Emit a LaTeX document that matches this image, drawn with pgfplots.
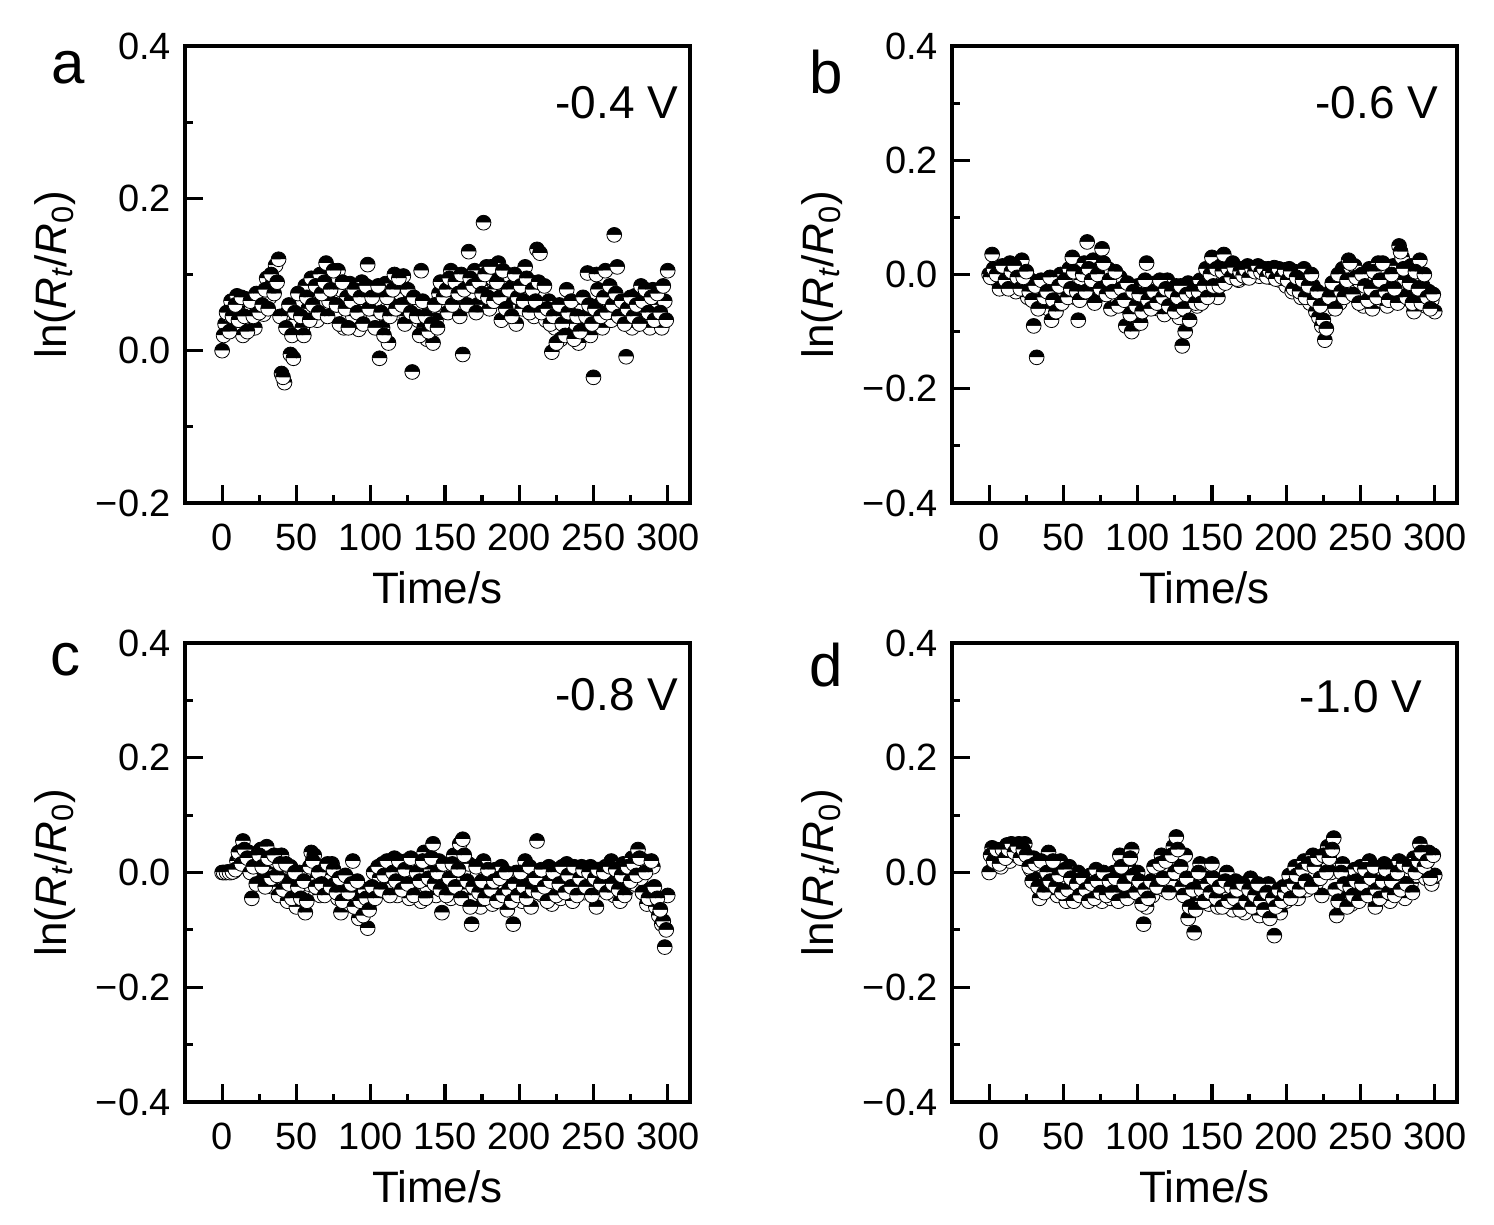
\documentclass[border=0pt]{standalone}
\usepackage{fontspec}
\setmainfont{Liberation Sans}
\usepackage{pgfplots}
\usepackage{pgfplotstable}
\pgfplotsset{compat=1.18}

\pgfplotstableread[row sep=\\]{t v\\
0 0.000\\ 2 0.035\\ 4 0.048\\ 6 0.065\\ 8 0.030\\ 10 0.072\\ 12 0.055\\ 14 0.020\\ 16 0.068\\ 18 0.040\\
20 0.058\\ 22 0.030\\ 24 0.062\\ 26 0.075\\ 28 0.048\\ 30 0.095\\ 32 0.070\\ 34 0.088\\ 36 0.112\\ 38 0.120\\
40 -0.030\\ 42 -0.042\\ 44 0.050\\ 46 -0.005\\ 48 -0.010\\ 50 0.040\\ 52 0.065\\ 54 0.030\\ 56 0.085\\ 58 0.055\\
60 0.095\\ 62 0.072\\ 64 0.040\\ 66 0.100\\ 68 0.085\\ 70 0.115\\ 72 0.065\\ 74 0.095\\ 76 0.050\\ 78 0.105\\
80 0.080\\ 82 0.030\\ 84 0.070\\ 86 0.088\\ 88 0.045\\ 90 0.075\\ 92 0.028\\ 94 0.090\\ 96 0.060\\ 98 0.113\\
100 0.080\\ 102 0.045\\ 104 0.068\\ 106 -0.010\\ 108 0.030\\ 110 0.088\\ 112 0.010\\ 114 0.060\\ 116 0.100\\ 118 0.050\\
120 0.075\\ 122 0.098\\ 124 0.045\\ 126 0.065\\ 128 -0.028\\ 130 0.060\\ 132 0.040\\ 134 0.105\\ 136 0.030\\ 138 0.015\\
140 0.055\\ 142 0.010\\ 144 0.040\\ 146 0.075\\ 148 0.060\\ 150 0.090\\ 152 0.050\\ 154 0.105\\ 156 0.070\\ 158 0.082\\
160 0.045\\ 162 -0.005\\ 164 0.095\\ 166 0.130\\ 168 0.075\\ 170 0.105\\ 172 0.060\\ 174 0.085\\ 176 0.168\\ 178 0.110\\
180 0.055\\ 182 0.095\\ 184 0.080\\ 186 0.115\\ 188 0.040\\ 190 0.070\\ 192 0.100\\ 194 0.060\\ 196 0.085\\ 198 0.035\\
200 0.095\\ 202 0.055\\ 204 0.110\\ 206 0.075\\ 208 0.090\\ 210 0.045\\ 212 0.133\\ 214 0.128\\ 216 0.060\\ 218 0.040\\
220 0.065\\ 222 -0.002\\ 224 0.030\\ 226 0.050\\ 228 0.015\\ 230 0.045\\ 232 0.080\\ 234 0.020\\ 236 0.055\\ 238 0.035\\
240 0.010\\ 242 0.060\\ 244 0.030\\ 246 0.102\\ 248 0.020\\ 250 -0.035\\ 252 0.100\\ 254 0.060\\ 256 0.030\\ 258 0.105\\
260 0.065\\ 262 0.040\\ 264 0.152\\ 266 0.110\\ 268 0.055\\ 270 0.045\\ 272 -0.008\\ 274 0.060\\ 276 0.030\\ 278 0.072\\
280 0.050\\ 282 0.085\\ 284 0.040\\ 286 0.065\\ 288 0.030\\ 290 0.080\\ 292 0.045\\ 294 0.060\\ 296 0.030\\ 298 0.065\\
300 0.105\\
}\dataA
\pgfplotstableread[row sep=\\]{t v\\
1 0.020\\ 3 0.050\\ 5 0.025\\ 7 0.045\\ 9 0.060\\ 11 0.040\\ 13 0.070\\ 15 0.045\\ 17 0.025\\ 19 0.065\\
21 0.045\\ 23 0.075\\ 25 0.050\\ 27 0.060\\ 29 0.080\\ 31 0.055\\ 33 0.100\\ 35 0.075\\ 37 0.090\\ 39 0.045\\
41 -0.035\\ 43 0.030\\ 45 0.060\\ 47 0.020\\ 49 0.050\\ 51 0.075\\ 53 0.045\\ 55 0.020\\ 57 0.070\\ 59 0.040\\
61 0.060\\ 63 0.085\\ 65 0.050\\ 67 0.075\\ 69 0.090\\ 71 0.045\\ 73 0.080\\ 75 0.105\\ 77 0.060\\ 79 0.035\\
81 0.090\\ 83 0.055\\ 85 0.030\\ 87 0.065\\ 89 0.080\\ 91 0.050\\ 93 0.070\\ 95 0.035\\ 97 0.085\\ 99 0.055\\
101 0.070\\ 103 0.030\\ 105 0.085\\ 107 0.050\\ 109 0.020\\ 111 0.070\\ 113 0.045\\ 115 0.080\\ 117 0.055\\ 119 0.095\\
121 0.060\\ 123 0.035\\ 125 0.080\\ 127 0.050\\ 129 0.070\\ 131 0.045\\ 133 0.020\\ 135 0.065\\ 137 0.045\\ 139 0.025\\
141 0.035\\ 143 0.060\\ 145 0.030\\ 147 0.090\\ 149 0.070\\ 151 0.080\\ 153 0.095\\ 155 0.060\\ 157 0.090\\ 159 0.075\\
161 0.100\\ 163 0.080\\ 165 0.060\\ 167 0.095\\ 169 0.085\\ 171 0.050\\ 173 0.090\\ 175 0.075\\ 177 0.100\\ 179 0.070\\
181 0.110\\ 183 0.065\\ 185 0.090\\ 187 0.070\\ 189 0.105\\ 191 0.055\\ 193 0.080\\ 195 0.045\\ 197 0.100\\ 199 0.070\\
201 0.085\\ 203 0.065\\ 205 0.095\\ 207 0.050\\ 209 0.080\\ 211 0.065\\ 213 0.090\\ 215 0.050\\ 217 0.085\\ 219 0.055\\
221 0.035\\ 223 0.045\\ 225 0.010\\ 227 0.060\\ 229 0.035\\ 231 0.020\\ 233 0.050\\ 235 0.065\\ 237 0.015\\ 239 0.045\\
241 0.025\\ 243 0.070\\ 245 0.045\\ 247 0.060\\ 249 0.035\\ 251 0.055\\ 253 0.080\\ 255 0.045\\ 257 0.070\\ 259 0.050\\
261 0.085\\ 263 0.060\\ 265 0.075\\ 267 0.045\\ 269 0.065\\ 271 0.035\\ 273 0.055\\ 275 0.070\\ 277 0.045\\ 279 0.060\\
281 0.035\\ 283 0.065\\ 285 0.080\\ 287 0.050\\ 289 0.070\\ 291 0.040\\ 293 0.075\\ 295 0.050\\ 297 0.085\\ 299 0.040\\
}\dataAo

\pgfplotstableread[row sep=\\]{t v\\
0 0.000\\ 2 0.035\\ 4 -0.005\\ 6 -0.012\\ 8 0.010\\ 10 -0.020\\ 12 0.005\\ 14 0.020\\ 16 -0.010\\ 18 -0.030\\
20 0.010\\ 22 0.025\\ 24 -0.020\\ 26 -0.040\\ 28 -0.010\\ 30 -0.090\\ 32 -0.145\\ 34 -0.030\\ 36 -0.050\\ 38 -0.015\\
40 -0.060\\ 42 -0.080\\ 44 -0.025\\ 46 -0.045\\ 48 0.000\\ 50 -0.035\\ 52 -0.020\\ 54 0.010\\ 56 0.030\\ 58 -0.040\\
60 -0.080\\ 62 -0.010\\ 64 0.020\\ 66 0.057\\ 68 -0.025\\ 70 0.025\\ 72 -0.040\\ 74 0.010\\ 76 0.045\\ 78 -0.015\\
80 0.010\\ 82 -0.060\\ 84 -0.020\\ 86 -0.040\\ 88 -0.005\\ 90 -0.030\\ 92 -0.090\\ 94 -0.060\\ 96 -0.100\\ 98 -0.040\\
100 -0.020\\ 102 -0.085\\ 104 -0.050\\ 106 0.020\\ 108 -0.030\\ 110 -0.045\\ 112 -0.015\\ 114 -0.060\\ 116 -0.025\\ 118 -0.070\\
120 -0.010\\ 122 -0.040\\ 124 -0.055\\ 126 -0.020\\ 128 -0.075\\ 130 -0.125\\ 132 -0.100\\ 134 -0.015\\ 136 -0.045\\ 138 -0.020\\
140 -0.055\\ 142 -0.010\\ 144 -0.035\\ 146 0.010\\ 148 -0.025\\ 150 0.030\\ 152 -0.005\\ 154 -0.040\\ 156 0.015\\ 158 0.035\\
160 -0.010\\ 162 0.005\\ 164 0.020\\ 166 0.000\\ 168 -0.010\\ 170 0.010\\ 172 -0.005\\ 174 0.015\\ 176 0.010\\ 178 0.002\\
180 0.012\\ 182 -0.003\\ 184 0.008\\ 186 0.000\\ 188 0.010\\ 190 -0.005\\ 192 0.012\\ 194 0.005\\ 196 -0.010\\ 198 0.000\\
200 -0.020\\ 202 0.010\\ 204 -0.030\\ 206 0.005\\ 208 -0.015\\ 210 -0.040\\ 212 0.010\\ 214 -0.030\\ 216 -0.050\\ 218 -0.020\\
220 -0.065\\ 222 -0.075\\ 224 -0.090\\ 226 -0.115\\ 228 -0.060\\ 230 -0.030\\ 232 -0.045\\ 234 -0.010\\ 236 -0.050\\ 238 0.010\\
240 -0.030\\ 242 0.025\\ 244 -0.020\\ 246 0.015\\ 248 -0.040\\ 250 -0.015\\ 252 -0.055\\ 254 -0.030\\ 256 0.010\\ 258 -0.060\\
260 -0.020\\ 262 0.020\\ 264 -0.045\\ 266 -0.010\\ 268 -0.055\\ 270 -0.020\\ 272 0.015\\ 274 -0.040\\ 276 0.050\\ 278 0.030\\
280 -0.010\\ 282 -0.035\\ 284 0.015\\ 286 -0.065\\ 288 -0.040\\ 290 0.025\\ 292 -0.020\\ 294 -0.055\\ 296 -0.030\\ 298 -0.045\\
300 -0.065\\
}\dataB
\pgfplotstableread[row sep=\\]{t v\\
1 -0.005\\ 3 0.010\\ 5 0.000\\ 7 -0.025\\ 9 0.015\\ 11 -0.010\\ 13 -0.025\\ 15 0.005\\ 17 0.015\\ 19 -0.005\\
21 -0.025\\ 23 -0.005\\ 25 0.005\\ 27 -0.030\\ 29 -0.045\\ 31 -0.020\\ 33 -0.060\\ 35 -0.010\\ 37 -0.040\\ 39 -0.030\\
41 -0.005\\ 43 -0.045\\ 45 -0.065\\ 47 -0.020\\ 49 -0.050\\ 51 -0.010\\ 53 -0.040\\ 55 -0.025\\ 57 0.005\\ 59 -0.030\\
61 -0.045\\ 63 0.000\\ 65 -0.030\\ 67 0.010\\ 69 -0.010\\ 71 -0.050\\ 73 0.000\\ 75 -0.025\\ 77 0.020\\ 79 -0.035\\
81 -0.010\\ 83 -0.030\\ 85 0.005\\ 87 -0.055\\ 89 -0.025\\ 91 -0.045\\ 93 -0.015\\ 95 -0.070\\ 97 -0.030\\ 99 -0.055\\
101 -0.035\\ 103 -0.065\\ 105 -0.010\\ 107 -0.045\\ 109 -0.060\\ 111 -0.030\\ 113 -0.050\\ 115 -0.010\\ 117 -0.040\\ 119 -0.025\\
121 -0.055\\ 123 -0.030\\ 125 -0.065\\ 127 -0.040\\ 129 -0.020\\ 131 -0.060\\ 133 -0.035\\ 135 -0.080\\ 137 -0.030\\ 139 -0.050\\
141 -0.030\\ 143 -0.050\\ 145 -0.020\\ 147 -0.040\\ 149 0.000\\ 151 -0.020\\ 153 0.010\\ 155 -0.020\\ 157 0.005\\ 159 -0.015\\
161 0.010\\ 163 -0.005\\ 165 0.012\\ 167 -0.008\\ 169 0.005\\ 171 -0.002\\ 173 0.008\\ 175 -0.006\\ 177 0.010\\ 179 0.005\\
181 0.015\\ 183 0.004\\ 185 0.010\\ 187 -0.004\\ 189 0.006\\ 191 0.002\\ 193 -0.008\\ 195 0.010\\ 197 -0.004\\ 199 0.008\\
201 -0.010\\ 203 0.005\\ 205 -0.025\\ 207 -0.005\\ 209 -0.030\\ 211 -0.010\\ 213 -0.040\\ 215 -0.020\\ 217 0.000\\ 219 -0.045\\
221 -0.030\\ 223 -0.055\\ 225 -0.080\\ 227 -0.095\\ 229 -0.040\\ 231 -0.015\\ 233 -0.060\\ 235 0.000\\ 237 -0.030\\ 239 -0.040\\
241 -0.010\\ 243 0.020\\ 245 -0.035\\ 247 -0.005\\ 249 -0.050\\ 251 0.000\\ 253 -0.020\\ 255 -0.045\\ 257 -0.025\\ 259 0.005\\
261 -0.040\\ 263 -0.010\\ 265 0.020\\ 267 -0.030\\ 269 -0.045\\ 271 0.000\\ 273 -0.025\\ 275 -0.050\\ 277 0.040\\ 279 0.010\\
281 -0.040\\ 283 -0.015\\ 285 -0.050\\ 287 0.005\\ 289 -0.025\\ 291 -0.050\\ 293 0.000\\ 295 -0.040\\ 297 -0.060\\ 299 -0.035\\
}\dataBo

\pgfplotstableread[row sep=\\]{t v\\
0 0.000\\ 2 0.000\\ 4 0.001\\ 6 0.000\\ 8 0.002\\ 10 0.020\\ 12 0.030\\ 14 0.055\\ 16 0.010\\ 18 0.035\\
20 -0.045\\ 22 0.025\\ 24 -0.010\\ 26 0.040\\ 28 -0.020\\ 30 0.045\\ 32 0.005\\ 34 -0.025\\ 36 0.020\\ 38 -0.040\\
40 0.030\\ 42 -0.015\\ 44 -0.050\\ 46 0.010\\ 48 -0.035\\ 50 -0.060\\ 52 0.000\\ 54 -0.030\\ 56 -0.070\\ 58 -0.020\\
60 0.035\\ 62 0.030\\ 64 -0.010\\ 66 -0.040\\ 68 0.010\\ 70 -0.030\\ 72 -0.005\\ 74 0.015\\ 76 -0.020\\ 78 -0.045\\
80 -0.070\\ 82 -0.030\\ 84 -0.010\\ 86 -0.055\\ 88 0.020\\ 90 -0.040\\ 92 -0.080\\ 94 -0.060\\ 96 -0.030\\ 98 -0.097\\
100 -0.050\\ 102 0.000\\ 104 -0.035\\ 106 -0.010\\ 108 0.015\\ 110 -0.030\\ 112 0.005\\ 114 -0.020\\ 116 0.025\\ 118 -0.040\\
120 0.010\\ 122 -0.015\\ 124 0.020\\ 126 -0.045\\ 128 0.000\\ 130 -0.030\\ 132 0.015\\ 134 -0.050\\ 136 0.035\\ 138 -0.025\\
140 0.005\\ 142 0.050\\ 144 -0.040\\ 146 0.020\\ 148 -0.070\\ 150 -0.020\\ 152 0.010\\ 154 -0.045\\ 156 0.030\\ 158 -0.010\\
160 0.050\\ 162 0.058\\ 164 -0.030\\ 166 0.015\\ 168 -0.090\\ 170 -0.040\\ 172 0.000\\ 174 -0.060\\ 176 0.020\\ 178 -0.030\\
180 -0.010\\ 182 -0.055\\ 184 0.005\\ 186 -0.035\\ 188 0.010\\ 190 -0.020\\ 192 -0.065\\ 194 -0.040\\ 196 -0.090\\ 198 0.000\\
200 -0.030\\ 202 -0.050\\ 204 0.020\\ 206 -0.015\\ 208 -0.060\\ 210 -0.030\\ 212 0.055\\ 214 -0.005\\ 216 -0.040\\ 218 -0.020\\
220 0.010\\ 222 -0.055\\ 224 -0.025\\ 226 0.005\\ 228 -0.045\\ 230 -0.010\\ 232 0.015\\ 234 -0.030\\ 236 -0.050\\ 238 0.005\\
240 -0.020\\ 242 0.010\\ 244 -0.035\\ 246 -0.005\\ 248 0.010\\ 250 -0.025\\ 252 -0.060\\ 254 0.000\\ 256 -0.030\\ 258 0.010\\
260 -0.015\\ 262 0.020\\ 264 -0.040\\ 266 -0.010\\ 268 -0.050\\ 270 0.015\\ 272 -0.030\\ 274 0.000\\ 276 0.025\\ 278 -0.020\\
280 0.040\\ 282 -0.010\\ 284 0.020\\ 286 -0.055\\ 288 -0.030\\ 290 0.010\\ 292 -0.060\\ 294 -0.075\\ 296 -0.090\\ 297 -0.085\\
298 -0.130\\ 299 -0.100\\ 300 -0.040\\
}\dataC
\pgfplotstableread[row sep=\\]{t v\\
1 0.000\\ 3 0.000\\ 5 0.000\\ 7 0.001\\ 9 0.005\\ 11 0.035\\ 13 0.015\\ 15 0.040\\ 17 0.025\\ 19 0.000\\
21 0.010\\ 23 -0.020\\ 25 0.030\\ 27 0.010\\ 29 -0.025\\ 31 0.025\\ 33 -0.010\\ 35 0.030\\ 37 -0.005\\ 39 0.015\\
41 -0.030\\ 43 0.015\\ 45 -0.020\\ 47 -0.045\\ 49 0.000\\ 51 -0.025\\ 53 -0.045\\ 55 -0.015\\ 57 -0.050\\ 59 0.010\\
61 0.020\\ 63 -0.025\\ 65 0.000\\ 67 -0.020\\ 69 -0.040\\ 71 0.015\\ 73 -0.025\\ 75 0.005\\ 77 -0.035\\ 79 -0.010\\
81 -0.050\\ 83 -0.005\\ 85 -0.035\\ 87 -0.020\\ 89 -0.060\\ 91 -0.015\\ 93 -0.050\\ 95 -0.075\\ 97 -0.045\\ 99 -0.065\\
101 -0.025\\ 103 -0.045\\ 105 0.010\\ 107 -0.030\\ 109 -0.005\\ 111 0.020\\ 113 -0.040\\ 115 0.000\\ 117 -0.015\\ 119 0.020\\
121 -0.030\\ 123 0.005\\ 125 -0.020\\ 127 0.025\\ 129 -0.040\\ 131 0.000\\ 133 -0.015\\ 135 0.020\\ 137 -0.045\\ 139 -0.010\\
141 0.025\\ 143 -0.020\\ 145 0.000\\ 147 -0.030\\ 149 0.015\\ 151 -0.040\\ 153 -0.010\\ 155 0.015\\ 157 -0.025\\ 159 0.005\\
161 -0.045\\ 163 0.030\\ 165 -0.015\\ 167 -0.060\\ 169 -0.025\\ 171 0.010\\ 173 -0.035\\ 175 -0.015\\ 177 -0.045\\ 179 0.005\\
181 -0.030\\ 183 -0.015\\ 185 -0.050\\ 187 -0.010\\ 189 -0.040\\ 191 0.000\\ 193 -0.030\\ 195 -0.050\\ 197 -0.020\\ 199 -0.040\\
201 0.000\\ 203 -0.025\\ 205 -0.045\\ 207 0.010\\ 209 -0.030\\ 211 -0.010\\ 213 -0.035\\ 215 0.005\\ 217 -0.025\\ 219 -0.050\\
221 -0.015\\ 223 0.000\\ 225 -0.040\\ 227 -0.020\\ 229 0.010\\ 231 -0.035\\ 233 -0.005\\ 235 -0.025\\ 237 0.010\\ 239 -0.040\\
241 -0.010\\ 243 0.005\\ 245 -0.025\\ 247 0.000\\ 249 -0.040\\ 251 -0.010\\ 253 0.005\\ 255 -0.020\\ 257 0.000\\ 259 -0.035\\
261 0.010\\ 263 -0.020\\ 265 0.005\\ 267 -0.030\\ 269 -0.005\\ 271 -0.040\\ 273 0.010\\ 275 -0.015\\ 277 0.015\\ 279 -0.005\\
281 0.025\\ 283 -0.035\\ 285 0.000\\ 287 -0.045\\ 289 0.020\\ 291 -0.025\\ 293 -0.045\\ 295 -0.065\\
}\dataCo

\pgfplotstableread[row sep=\\]{t v\\
0 0.000\\ 2 0.043\\ 4 0.025\\ 6 0.035\\ 8 0.010\\ 10 0.030\\ 12 0.048\\ 14 0.020\\ 16 0.045\\ 18 0.030\\
20 0.050\\ 22 0.035\\ 24 0.050\\ 26 0.020\\ 28 0.005\\ 30 0.025\\ 32 -0.010\\ 34 -0.045\\ 36 0.010\\ 38 -0.020\\
40 0.035\\ 42 -0.030\\ 44 0.000\\ 46 -0.040\\ 48 0.020\\ 50 -0.015\\ 52 -0.050\\ 54 0.010\\ 56 -0.025\\ 58 -0.040\\
60 0.000\\ 62 -0.030\\ 64 -0.015\\ 66 -0.045\\ 68 -0.005\\ 70 -0.035\\ 72 0.005\\ 74 -0.020\\ 76 -0.050\\ 78 -0.010\\
80 -0.030\\ 82 -0.045\\ 84 0.000\\ 86 -0.025\\ 88 0.030\\ 90 -0.040\\ 92 -0.015\\ 94 0.010\\ 96 0.040\\ 98 -0.020\\
100 0.000\\ 102 -0.035\\ 104 -0.090\\ 106 -0.060\\ 108 -0.020\\ 110 -0.040\\ 112 -0.010\\ 114 0.000\\ 116 0.030\\ 118 -0.030\\
120 0.010\\ 122 -0.015\\ 124 0.045\\ 126 0.062\\ 128 0.020\\ 130 -0.025\\ 132 0.030\\ 134 -0.080\\ 136 -0.050\\ 138 -0.105\\
140 -0.020\\ 142 0.015\\ 144 -0.040\\ 146 -0.010\\ 148 -0.055\\ 150 0.015\\ 152 -0.030\\ 154 -0.060\\ 156 -0.020\\ 158 -0.045\\
160 0.000\\ 162 -0.035\\ 164 -0.065\\ 166 -0.015\\ 168 -0.050\\ 170 -0.030\\ 172 -0.070\\ 174 -0.040\\ 176 -0.010\\ 178 -0.055\\
180 -0.025\\ 182 -0.075\\ 184 -0.035\\ 186 -0.050\\ 188 -0.020\\ 190 -0.060\\ 192 -0.110\\ 194 -0.040\\ 196 -0.070\\ 198 -0.025\\
200 -0.050\\ 202 -0.005\\ 204 -0.035\\ 206 0.010\\ 208 -0.045\\ 210 -0.015\\ 212 0.020\\ 214 -0.030\\ 216 0.000\\ 218 0.030\\
220 -0.020\\ 222 0.010\\ 224 -0.040\\ 226 0.020\\ 228 0.045\\ 230 0.000\\ 232 0.060\\ 234 -0.075\\ 236 -0.030\\ 238 0.015\\
240 -0.045\\ 242 -0.010\\ 244 -0.055\\ 246 0.005\\ 248 -0.030\\ 250 0.010\\ 252 -0.040\\ 254 -0.015\\ 256 0.020\\ 258 -0.025\\
260 -0.060\\ 262 0.000\\ 264 -0.035\\ 266 0.015\\ 268 -0.020\\ 270 -0.050\\ 272 0.010\\ 274 -0.030\\ 276 0.020\\ 278 -0.010\\
280 -0.045\\ 282 0.005\\ 284 -0.020\\ 286 0.025\\ 288 -0.005\\ 290 0.050\\ 292 0.030\\ 294 -0.010\\ 296 0.035\\ 298 -0.020\\
300 -0.005\\
}\dataD
\pgfplotstableread[row sep=\\]{t v\\
1 0.030\\ 3 0.020\\ 5 0.040\\ 7 0.015\\ 9 0.040\\ 11 0.025\\ 13 0.040\\ 15 0.050\\ 17 0.035\\ 19 0.045\\
21 0.025\\ 23 0.040\\ 25 0.030\\ 27 0.010\\ 29 -0.015\\ 31 0.015\\ 33 -0.025\\ 35 0.020\\ 37 -0.035\\ 39 0.000\\
41 -0.015\\ 43 0.020\\ 45 -0.025\\ 47 -0.005\\ 49 -0.035\\ 51 0.005\\ 53 -0.030\\ 55 -0.010\\ 57 -0.050\\ 59 -0.020\\
61 -0.040\\ 63 -0.010\\ 65 -0.030\\ 67 -0.050\\ 69 -0.020\\ 71 -0.045\\ 73 -0.015\\ 75 -0.035\\ 77 0.000\\ 79 -0.040\\
81 -0.015\\ 83 -0.035\\ 85 -0.010\\ 87 -0.050\\ 89 0.010\\ 91 -0.020\\ 93 -0.045\\ 95 0.025\\ 97 -0.005\\ 99 -0.035\\
101 -0.015\\ 103 -0.055\\ 105 -0.030\\ 107 -0.045\\ 109 -0.015\\ 111 0.010\\ 113 -0.025\\ 115 0.015\\ 117 -0.010\\ 119 0.020\\
121 -0.035\\ 123 0.030\\ 125 0.000\\ 127 0.040\\ 129 0.010\\ 131 -0.040\\ 133 -0.010\\ 135 -0.060\\ 137 -0.030\\ 139 -0.065\\
141 0.000\\ 143 -0.030\\ 145 -0.050\\ 147 -0.020\\ 149 -0.035\\ 151 -0.010\\ 153 -0.045\\ 155 -0.025\\ 157 -0.060\\ 159 -0.015\\
161 -0.050\\ 163 -0.025\\ 165 -0.045\\ 167 -0.030\\ 169 -0.065\\ 171 -0.020\\ 173 -0.050\\ 175 -0.030\\ 177 -0.060\\ 179 -0.040\\
181 -0.020\\ 183 -0.050\\ 185 -0.065\\ 187 -0.035\\ 189 -0.080\\ 191 -0.045\\ 193 -0.060\\ 195 -0.030\\ 197 -0.050\\ 199 -0.035\\
201 -0.025\\ 203 -0.045\\ 205 -0.020\\ 207 -0.005\\ 209 -0.030\\ 211 0.005\\ 213 -0.015\\ 215 0.015\\ 217 -0.025\\ 219 0.010\\
221 0.025\\ 223 -0.010\\ 225 0.030\\ 227 0.000\\ 229 0.025\\ 231 0.040\\ 233 -0.030\\ 235 -0.050\\ 237 0.000\\ 239 -0.020\\
241 -0.060\\ 243 -0.025\\ 245 -0.040\\ 247 -0.015\\ 249 -0.050\\ 251 -0.020\\ 253 0.005\\ 255 -0.040\\ 257 -0.010\\ 259 0.010\\
261 -0.030\\ 263 -0.045\\ 265 -0.015\\ 267 0.005\\ 269 -0.035\\ 271 -0.015\\ 273 -0.040\\ 275 0.000\\ 277 -0.030\\ 279 0.015\\
281 -0.020\\ 283 0.010\\ 285 -0.035\\ 287 0.000\\ 289 0.020\\ 291 0.035\\ 293 0.010\\ 295 0.020\\ 297 -0.010\\ 299 0.030\\
}\dataDo

\pgfplotsset{
  panel/.style={
    scale only axis, width=252.5pt,
    xmin=-25, xmax=315,
    xtick={0,50,100,150,200,250,300},
    xticklabels={0,50,100,150,200,250,300},
    minor x tick num=1, minor y tick num=1,
    tick pos=left, tick align=inside,
    major tick length=9pt, minor tick length=4pt,
    every tick/.append style={line width=1.6pt, black},
    axis line style={line width=1.6pt},
    ticklabel style={font=\fontsize{19}{21}\selectfont},
    yticklabel style={xshift=-3.5pt},
    xticklabel style={yshift=-7pt},
    xlabel={Time/s},
    ylabel={ln(\textit{R}\textsubscript{\textit{t}}/\textit{R}\textsubscript{0})},
    every axis x label/.style={at={(axis description cs:0.5,-0.185)}, anchor=center, font=\fontsize{22}{26}\selectfont},
    every axis y label/.style={at={(axis description cs:-0.257,0.5)}, anchor=center, rotate=90, font=\fontsize{22}{26}\selectfont},
    clip=false,
  },
  pts/.style={only marks, mark=halfcircle*, mark size=3.7pt,
    mark options={draw=black, fill=black, mark color=white, line width=0.4pt}},
  yfull/.style={ymin=-0.4, ymax=0.4, ytick={-0.4,-0.2,0,0.2,0.4},
    yticklabels={−0.4,−0.2,0.0,0.2,0.4}},
}

\begin{document}
\begin{tikzpicture}
\useasboundingbox (0,0) rectangle (747pt,612.5pt);

\begin{axis}[panel, at={(92.5pt,361pt)}, anchor=south west, height=228.5pt,
  ymin=-0.2, ymax=0.4, ytick={-0.2,0,0.2,0.4}, yticklabels={−0.2,0.0,0.2,0.4}]
\addplot[pts] table[x=t, y=v] {\dataA};
\addplot[pts] table[x=t, y=v] {\dataAo};
\node[font=\fontsize{23}{26}\selectfont] at (rel axis cs:0.855,0.877) {-0.4 V};
\end{axis}

\begin{axis}[panel, yfull, at={(476pt,361pt)}, anchor=south west, height=228.5pt]
\addplot[pts] table[x=t, y=v] {\dataB};
\addplot[pts] table[x=t, y=v] {\dataBo};
\node[font=\fontsize{23}{26}\selectfont] at (rel axis cs:0.841,0.877) {-0.6 V};
\end{axis}

\begin{axis}[panel, yfull, at={(92.5pt,61.5pt)}, anchor=south west, height=229.5pt]
\addplot[pts] table[x=t, y=v] {\dataC};
\addplot[pts] table[x=t, y=v] {\dataCo};
\node[font=\fontsize{23}{26}\selectfont] at (rel axis cs:0.855,0.887) {-0.8 V};
\end{axis}

\begin{axis}[panel, yfull, at={(476pt,61.5pt)}, anchor=south west, height=229.5pt]
\addplot[pts] table[x=t, y=v] {\dataD};
\addplot[pts] table[x=t, y=v] {\dataDo};
\node[font=\fontsize{23}{26}\selectfont] at (rel axis cs:0.81,0.882) {-1.0 V};
\end{axis}

\node[font=\fontsize{30}{32}\selectfont] at (34pt,578.5pt) {a};
\node[font=\fontsize{30}{32}\selectfont] at (413pt,576.5pt) {b};
\node[font=\fontsize{30}{32}\selectfont] at (32.5pt,282.5pt) {c};
\node[font=\fontsize{30}{32}\selectfont] at (413pt,280pt) {d};
\end{tikzpicture}
\end{document}
